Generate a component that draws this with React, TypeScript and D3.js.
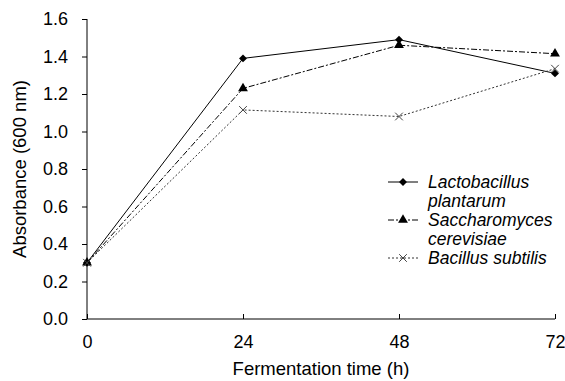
import React, { useEffect, useRef } from 'react';
import * as d3 from 'd3';

const hours = [0, 24, 48, 72];
const lactobacillus = [0.30, 1.39, 1.49, 1.31];
const saccharomyces = [0.30, 1.23, 1.46, 1.415];
const bacillus = [0.30, 1.115, 1.08, 1.335];
const yTicks = [0, 0.2, 0.4, 0.6, 0.8, 1.0, 1.2, 1.4, 1.6];

const series = [
  { name: ['Lactobacillus', 'plantarum'], values: lactobacillus, dash: null, marker: 'diamond', color: '#000' },
  { name: ['Saccharomyces', 'cerevisiae'], values: saccharomyces, dash: '6,2,2,2', marker: 'triangle', color: '#000' },
  { name: ['Bacillus subtilis'], values: bacillus, dash: '2,2', marker: 'cross', color: '#333' },
];

const W = 565;
const H = 381;
const font = 'Arial, "Liberation Sans", sans-serif';

function drawMarker(g: d3.Selection<SVGGElement, unknown, null, undefined>, kind: string, x: number, y: number) {
  if (kind === 'diamond') {
    g.append('path').attr('d', d3.symbol(d3.symbolDiamond2, 40)()).attr('transform', `translate(${x},${y})`).attr('fill', '#000');
  } else if (kind === 'triangle') {
    g.append('path').attr('d', d3.symbol(d3.symbolTriangle, 42)()).attr('transform', `translate(${x},${y})`).attr('fill', '#000');
  } else {
    g.append('path').attr('d', d3.symbol(d3.symbolX, 40)()).attr('transform', `translate(${x},${y})`)
      .attr('fill', 'none').attr('stroke', '#444').attr('stroke-width', 1);
  }
}

const App: React.FC = () => {
  const svgRef = useRef<SVGSVGElement>(null);

  useEffect(() => {
    const svg = d3.select(svgRef.current);
    svg.selectAll('*').remove();

    const x = d3.scaleLinear().domain([0, 72]).range([87, 555]);
    const y = d3.scaleLinear().domain([0, 1.6]).range([319, 19]);

    // axes
    const yAxis = svg.append('g').attr('transform', 'translate(87,0)')
      .call(d3.axisLeft(y).tickValues(yTicks).tickSize(5).tickPadding(14).tickFormat(d3.format('.1f')));
    yAxis.select('.domain').attr('d', `M0,${y(1.6)}V${y(0)}`);
    yAxis.selectAll('text').attr('font-size', 18).attr('font-family', font).attr('fill', '#000');

    const xAxis = svg.append('g').attr('transform', 'translate(0,319)')
      .call(d3.axisBottom(x).tickValues(hours).tickSize(-5).tickPadding(16).tickFormat(d3.format('d')));
    xAxis.select('.domain').attr('d', `M${x(0)},0H${x(72)}`);
    xAxis.selectAll('text').attr('font-size', 18).attr('font-family', font).attr('fill', '#000');

    svg.append('text').attr('x', 321).attr('y', 375).attr('text-anchor', 'middle')
      .attr('font-size', 18.5).attr('font-family', font).text('Fermentation time (h)');
    svg.append('text').attr('transform', `translate(26,${(y(0) + y(1.6)) / 2}) rotate(-90)`)
      .attr('text-anchor', 'middle').attr('font-size', 18.5).attr('font-family', font).text('Absorbance (600 nm)');

    // lines and markers
    const line = d3.line<number>().x((_, i) => x(hours[i])).y(d => y(d));
    series.forEach(s => {
      svg.append('path').datum(s.values).attr('d', line).attr('fill', 'none')
        .attr('stroke', s.color).attr('stroke-width', 1)
        .attr('stroke-dasharray', s.dash);
      const mg = svg.append('g');
      s.values.forEach((v, i) => drawMarker(mg, s.marker, x(hours[i]), y(v)));
    });

    // legend
    const lg = svg.append('g');
    let row = 0;
    series.forEach(s => {
      const cy = 182 + row * 19;
      lg.append('line').attr('x1', 388).attr('x2', 418).attr('y1', cy).attr('y2', cy)
        .attr('stroke', s.color).attr('stroke-width', 1).attr('stroke-dasharray', s.dash);
      drawMarker(lg, s.marker, 403, cy);
      s.name.forEach(n => {
        lg.append('text').attr('x', 428).attr('y', 182 + row * 19 + 6)
          .attr('font-size', 17.5).attr('font-style', 'italic').attr('font-family', font).text(n);
        row++;
      });
    });
  }, []);

  return <svg ref={svgRef} width={W} height={H} style={{ position: 'absolute', left: 0, top: 0, background: '#fff' }} />;
};

export default App;
